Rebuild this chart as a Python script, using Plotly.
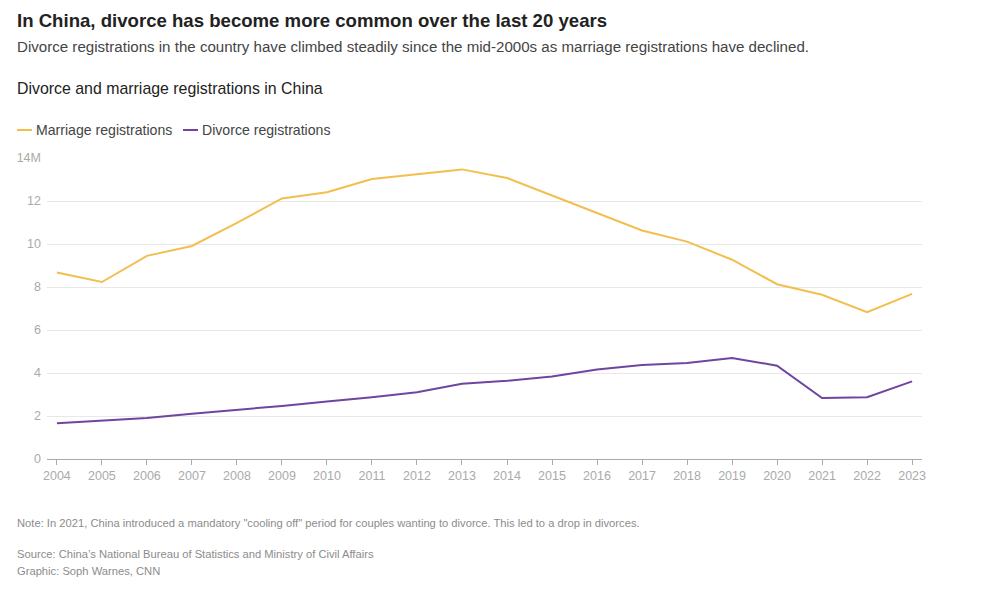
import plotly.graph_objects as go

years = list(range(2004, 2024))
marriage = [8.67, 8.23, 9.45, 9.91, 10.98, 12.12, 12.41, 13.02, 13.24, 13.47,
            13.07, 12.25, 11.42, 10.63, 10.11, 9.27, 8.13, 7.64, 6.83, 7.68]
divorce = [1.66, 1.79, 1.91, 2.10, 2.27, 2.47, 2.68, 2.87, 3.10, 3.50,
           3.64, 3.84, 4.16, 4.37, 4.46, 4.70, 4.34, 2.84, 2.87, 3.61]
ytick_vals = [0, 2, 4, 6, 8, 10, 12, 14]
ytick_text = ["0", "2", "4", "6", "8", "10", "12", "14M"]

C_MAR = "#f2bf4f"
C_DIV = "#6e45a0"
FONT = "Liberation Sans, Arial, sans-serif"

# page body has an 8px margin; target screenshot pixels are offset by OFF
OFF = 8
W, H = 990, 599
L, R, T, B = 47 - OFF, 990 - (922 - OFF), 158 - OFF, 599 - (459 - OFF)
PW, PH = W - L - R, H - T - B


def px_x(p):
    return (p - OFF - L) / PW


def px_y(p):
    return (H - B - (p - OFF)) / PH


fig = go.Figure()
fig.add_trace(go.Scatter(x=years, y=marriage, mode="lines", name="Marriage registrations",
                         line=dict(color=C_MAR, width=2)))
fig.add_trace(go.Scatter(x=years, y=divorce, mode="lines", name="Divorce registrations",
                         line=dict(color=C_DIV, width=2)))

TX = 15
annotations = [
    dict(text="<b>In China, divorce has become more common over the last 20 years</b>",
         x=px_x(TX), y=px_y(20), font=dict(size=18.6, color="#222", family=FONT)),
    dict(text="Divorce registrations in the country have climbed steadily since the mid-2000s as marriage registrations have declined.",
         x=px_x(TX), y=px_y(46), font=dict(size=15.1, color="#444", family=FONT)),
    dict(text="Divorce and marriage registrations in China",
         x=px_x(TX), y=px_y(89), font=dict(size=15.9, color="#222", family=FONT)),
    dict(text="Marriage registrations", x=px_x(34), y=px_y(130),
         font=dict(size=14.1, color="#444", family=FONT)),
    dict(text="Divorce registrations", x=px_x(200), y=px_y(130),
         font=dict(size=14.1, color="#444", family=FONT)),
    dict(text="Note: In 2021, China introduced a mandatory \"cooling off\" period for couples wanting to divorce. This led to a drop in divorces.",
         x=px_x(TX), y=px_y(523), font=dict(size=11.2, color="#8c8c8c", family=FONT)),
    dict(text="Source: China\u2019s National Bureau of Statistics and Ministry of Civil Affairs",
         x=px_x(TX), y=px_y(554), font=dict(size=11.2, color="#8c8c8c", family=FONT)),
    dict(text="Graphic: Soph Warnes, CNN",
         x=px_x(TX), y=px_y(571), font=dict(size=11.2, color="#8c8c8c", family=FONT)),
]
for a in annotations:
    a.update(xref="paper", yref="paper", xanchor="left", yanchor="middle", showarrow=False)

shapes = [
    dict(type="line", xref="paper", yref="paper", x0=px_x(17), x1=px_x(32),
         y0=px_y(130), y1=px_y(130), line=dict(color=C_MAR, width=2)),
    dict(type="line", xref="paper", yref="paper", x0=px_x(183), x1=px_x(198),
         y0=px_y(130), y1=px_y(130), line=dict(color=C_DIV, width=2)),
]

fig.update_layout(
    width=W, height=H,
    margin=dict(l=L, r=R, t=T, b=B, autoexpand=False),
    paper_bgcolor="white", plot_bgcolor="white",
    showlegend=False,
    annotations=annotations,
    shapes=shapes,
    font=dict(family=FONT),
    xaxis=dict(range=[2004 - 0.22, 2023 + 0.22], tickvals=years, showgrid=False,
               showline=True, linecolor="#aaa", linewidth=1, ticks="outside",
               ticklen=5, tickcolor="#aaa", tickfont=dict(size=12.5, color="#aaa", family=FONT),
               zeroline=False, fixedrange=True, automargin=False),
    yaxis=dict(range=[0, 14], tickvals=ytick_vals, ticktext=ytick_text, showgrid=True,
               gridcolor="#e8e8e8", gridwidth=1, zeroline=False, showline=False,
               ticks="", tickfont=dict(size=12.5, color="#aaa", family=FONT),
               ticklabelstandoff=5, fixedrange=True, automargin=False),
)

fig.write_html("out.html")
